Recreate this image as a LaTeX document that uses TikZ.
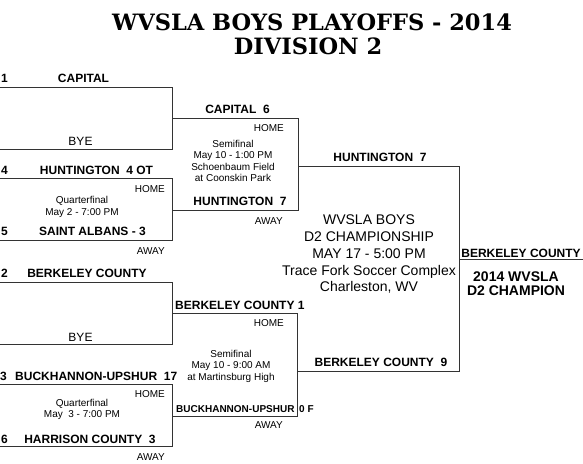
\documentclass[tikz,border=0pt]{standalone}
\usepackage{fontspec}
\setmainfont{Liberation Sans}
\newfontfamily\titlefont{DejaVu Serif}
\usepackage{tikz}
\usetikzlibrary{positioning}
\definecolor{lineclr}{HTML}{333333}
\tikzset{
  bline/.style={draw=lineclr, line width=1pt},
  team/.style={font=\bfseries\fontsize{12}{14}\selectfont, inner sep=0pt, anchor=base},
  smallteam/.style={font=\bfseries\fontsize{10}{12}\selectfont, inner sep=0pt, anchor=base west},
  seed/.style={font=\bfseries\fontsize{12}{14}\selectfont, inner sep=0pt, anchor=base west},
  bye/.style={font=\fontsize{12}{14}\selectfont, inner sep=0pt, anchor=base},
  info/.style={font=\fontsize{10}{11.5}\selectfont, align=center, inner sep=0pt, anchor=base},
  side/.style={font=\fontsize{10}{12}\selectfont, inner sep=0pt, anchor=base east},
  champ/.style={font=\fontsize{14}{16.7}\selectfont, align=center, inner sep=0pt, anchor=base},
  title/.style={font=\titlefont\bfseries\fontsize{22.5}{26}\selectfont, inner sep=0pt, anchor=base},
}

\begin{document}
\begin{tikzpicture}[x=1pt, y=-1pt]
  \useasboundingbox (0,0) rectangle (583,463);
  % title
  \node[title] (tline1) at (312,30) {WVSLA BOYS PLAYOFFS - 2014};
  \node[title] (tline2) at (308,54) {DIVISION 2};

  % first round
  \draw[bline] (0,87) -- (172,87) -- (172,149) -- (0,149);
  \draw[bline] (0,178) -- (172,178) -- (172,240) -- (0,240);
  \draw[bline] (0,282) -- (172,282) -- (172,344) -- (0,344);
  \draw[bline] (0,384) -- (172,384) -- (172,446) -- (0,446);
  % semifinals
  \draw[bline] (172,118) -- (298,118) -- (298,210) -- (172,210);
  \draw[bline] (172,313) -- (297,313) -- (297,416.5) -- (172,416.5);
  % final and champion
  \draw[bline] (298,166) -- (459,166) -- (459,371) -- (298,371);
  \draw[bline] (459,259) -- (583,259);

  % top half
  \node[seed] (s1) at (1,82.3) {1};
  \node[team] (capital) at (83.5,82.3) {CAPITAL};
  \node[bye] (bye1) at (80.5,145.3) {BYE};
  \node[seed] (s4) at (1,174.3) {4};
  \node[team] (hunt) at (96.5,174.3) {HUNTINGTON\ \ 4 OT};
  \node[side] (homeq1) at (165,192) {HOME};
  \node[info] (qf1) at (82,215) {Quarterfinal\\May 2 - 7:00 PM};
  \node[seed] (s5) at (1,235) {5};
  \node[team] (stalb) at (92.5,235) {SAINT ALBANS - 3};
  \node[side] (awayq1) at (165,254.3) {AWAY};

  \node[team] (capsemi) at (237.5,113.5) {CAPITAL\ \ 6};
  \node[side] (homes1) at (284,131.6) {HOME};
  \node[info] (sf1) at (233,181.7) {Semifinal\\May 10 - 1:00 PM\\Schoenbaum Field\\at Coonskin Park};
  \node[team] (huntsemi) at (240,205) {HUNTINGTON\ \ 7};
  \node[side] (aways1) at (283,224) {AWAY};

  % bottom half
  \node[seed] (s2) at (1,277.6) {2};
  \node[team] (berk) at (87,277.6) {BERKELEY COUNTY};
  \node[bye] (bye2) at (80.5,341) {BYE};
  \node[seed] (s3) at (0,380.1) {3};
  \node[seed] (buck) at (15,380.1) {BUCKHANNON-UPSHUR\ \ 17};
  \node[side] (homeq4) at (165,397) {HOME};
  \node[info] (qf2) at (82,417.6) {Quarterfinal\\May\ \ 3 - 7:00 PM};
  \node[seed] (s6) at (1,443.3) {6};
  \node[team] (harr) at (90,443.3) {HARRISON COUNTY\ \ 3};
  \node[side] (awayq4) at (165,460.3) {AWAY};

  \node[seed] (berksemi) at (175,309.3) {BERKELEY COUNTY 1};
  \node[side] (homes2) at (284,326.4) {HOME};
  \node[info] (sf2) at (231,380.3) {Semifinal\\May 10 - 9:00 AM\\at Martinsburg High};
  \node[smallteam] (bucksemi) at (176,412) {BUCKHANNON-UPSHUR};
  \node[smallteam] (forfeit) at (299,412) {0 F};
  \node[side] (aways2) at (283,428.6) {AWAY};

  % final
  \node[team] (huntfin) at (380,161.8) {HUNTINGTON\ \ 7};
  \node[champ] (final) at (369,291.7) {WVSLA BOYS\\D2 CHAMPIONSHIP\\MAY 17 - 5:00 PM\\Trace Fork Soccer Complex\\Charleston, WV};
  \node[team] (berkfin) at (381,366) {BERKELEY COUNTY\ \ 9};
  \node[team] (winner) at (521,257.1) {BERKELEY COUNTY};
  \node[champ, font=\bfseries\fontsize{14}{13.3}\selectfont] (title14) at (516,295) {2014 WVSLA\\D2 CHAMPION};
\end{tikzpicture}
\end{document}
